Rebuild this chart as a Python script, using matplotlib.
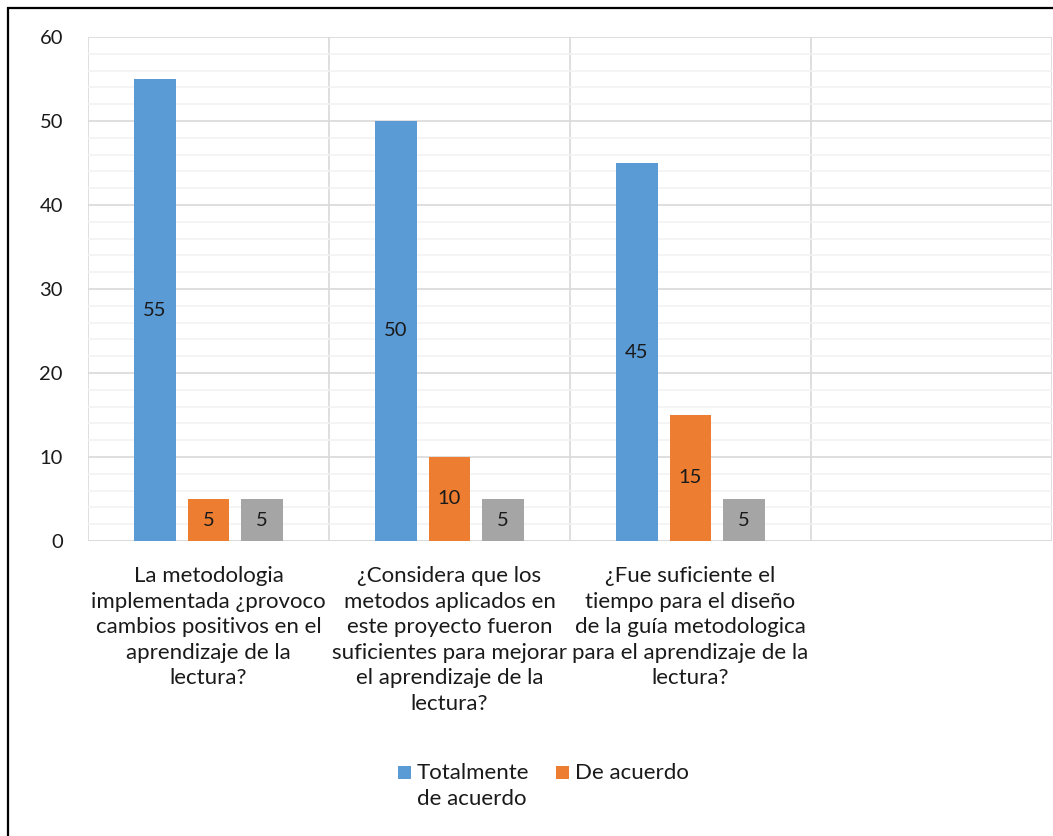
import numpy as np
from matplotlib import pyplot as plt
from matplotlib.patches import Rectangle

plt.rcParams["font.family"] = ["Lato", "DejaVu Sans"]

# datos
preguntas = [
    "La metodologia\nimplementada ¿provoco\ncambios positivos en el\naprendizaje de la\nlectura?",
    "¿Considera que los\nmetodos aplicados en\neste proyecto fueron\nsuficientes para mejorar\nel aprendizaje de la\nlectura?",
    "¿Fue suficiente el\ntiempo para el diseño\nde la guía metodologica\npara el aprendizaje de la\nlectura?",
    "",
]
totalmente = [55, 50, 45]
de_acuerdo = [5, 10, 15]
otros = [5, 5, 5]
series_nombres = ["Totalmente\nde acuerdo", "De acuerdo"]
colores = ["#5b9bd5", "#ed7d31", "#a5a5a5"]
texto = "#1a1a1a"

W, H = 1053, 836
fig = plt.figure(figsize=(W / 100, H / 100), dpi=100)
ax = fig.add_axes([88/W, 1 - 541/H, 964/W, 504/H])

x = np.arange(len(totalmente))
ancho = 0.174
sep = 0.222
for i, (vals, col) in enumerate(zip([totalmente, de_acuerdo, otros], colores)):
    barras = ax.bar(x + (i - 1) * sep, vals, ancho, color=col, zorder=3)
    ax.bar_label(barras, labels=[str(v) for v in vals], label_type="center", fontsize=14.5, color=texto)

ax.set_xlim(-0.5, 3.5)
ax.set_ylim(0, 60)
ax.set_yticks(np.arange(0, 61, 10))
ax.set_yticks(np.arange(0, 61, 2), minor=True)
ax.set_xticks(np.arange(4))
ax.set_xticklabels(preguntas, fontsize=16, color=texto, va="top")
for t in ax.get_xticklabels():
    t.set_linespacing(1.35)
ax.set_xticks(np.arange(-0.5, 3.6, 1), minor=True)
ax.tick_params(axis="both", which="both", length=0)
ax.tick_params(axis="y", labelsize=14.5, labelcolor=texto, pad=18)
ax.tick_params(axis="x", pad=18)

ax.grid(axis="y", which="minor", color="#f2f2f2", lw=1.2, zorder=0)
ax.grid(axis="y", which="major", color="#d9d9d9", lw=1.2, zorder=1)
ax.grid(axis="x", which="minor", color="#d9d9d9", lw=1.2, zorder=1)
for s in ax.spines.values():
    s.set_visible(False)
ax.axhline(0, color="#d9d9d9", lw=1.2, zorder=2)

# leyenda (solo dos entradas, como en el original)
for x0, nombre, col in [(398, series_nombres[0], colores[0]), (556, series_nombres[1], colores[1])]:
    fig.patches.append(Rectangle((x0/W, 1 - 779/H), 13/W, 13/H, transform=fig.transFigure,
                                 fc=col, ec="none"))
    fig.text((x0 + 19)/W, 1 - 763/H, nombre, fontsize=16, color=texto, ha="left", va="top",
             linespacing=1.35)

fig.patches.append(Rectangle((8/W, -0.05), 1.1, 1 - 8/H + 0.05, transform=fig.transFigure,
                             fill=False, ec="black", lw=1.6, zorder=10))

fig.savefig("out.png", dpi=100)
